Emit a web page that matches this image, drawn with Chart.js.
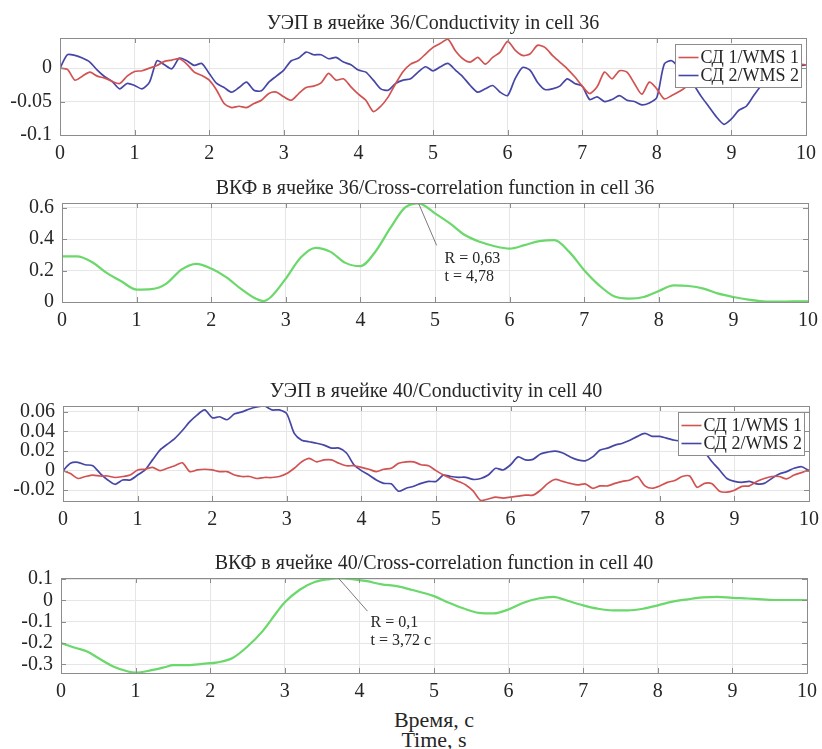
<!DOCTYPE html>
<html>
<head>
<meta charset="utf-8">
<script src="https://cdn.jsdelivr.net/npm/chart.js@4.4.1/dist/chart.umd.min.js"></script>
<style>
    body { margin: 0; background: #fff; }
    #wrap { position: relative; width: 822px; height: 749px; overflow: hidden; font-family: "Liberation Serif", "Times New Roman", serif; color: #262626; }
    #wrap canvas { position: absolute; left: 0; }
    .xlabel { position: absolute; left: 334px; width: 200px; text-align: center; font-size: 22px; line-height: 22px; }
</style>
</head>
<body>
<div id="wrap">
    <div class="xlabel" style="top: 709px;">Время, с</div>
    <div class="xlabel" style="top: 729px;">Time, s</div>
</div>
<script>
// sampling grid of the conductivity records, 0..10 s every 0.1 s
const t01 = Array.from({ length: 101 }, (_, i) => i / 10);
const xTicks = [0, 1, 2, 3, 4, 5, 6, 7, 8, 9, 10];

// cell 36, conductivity
const red36 = [
    0, -0.002, -0.018, -0.012, -0.006, -0.012, -0.015, -0.02, -0.023, -0.012,
    -0.005, -0.004, 0.0, 0.004, 0.01, 0.012, 0.014, 0.006, -0.006, -0.011,
    -0.018, -0.033, -0.053, -0.059, -0.057, -0.059, -0.053, -0.048, -0.038, -0.036,
    -0.043, -0.048, -0.038, -0.029, -0.027, -0.022, -0.008, -0.018, -0.016, -0.028,
    -0.039, -0.048, -0.065, -0.057, -0.043, -0.023, -0.005, 0.006, 0.011, 0.021,
    0.031, 0.037, 0.043, 0.026, 0.014, 0.009, 0.016, 0.006, 0.016, 0.024,
    0.04, 0.027, 0.019, 0.021, 0.034, 0.031, 0.019, 0.009, -0.001, -0.013,
    -0.027, -0.038, -0.028, -0.006, -0.016, -0.004, -0.006, -0.023, -0.039, -0.021,
    -0.031, -0.046, -0.041, -0.035, -0.028, -0.022, -0.018, -0.014, -0.02, -0.012,
    -0.006, -0.01, -0.002, -0.006, 0.0, -0.004, 0.004, 0.0, 0.004, 0.006,
    0.005
];
const blue36 = [
    0, 0.02, 0.019, 0.015, 0.009, -0.003, -0.013, -0.02, -0.031, -0.023,
    -0.026, -0.031, -0.021, 0.011, 0.005, -0.001, 0.015, 0.011, 0.004, 0.007,
    -0.008, -0.023, -0.029, -0.036, -0.029, -0.021, -0.033, -0.034, -0.021, -0.012,
    -0.003, 0.011, 0.015, 0.024, 0.02, 0.02, 0.014, 0.016, 0.009, 0.005,
    -0.003, -0.006, -0.018, -0.031, -0.033, -0.023, -0.018, -0.016, -0.006, 0.002,
    -0.004, 0.002, 0.007, -0.003, -0.013, -0.026, -0.036, -0.031, -0.026, -0.036,
    -0.041, -0.016, 0.001, -0.003, -0.021, -0.032, -0.031, -0.027, -0.016, -0.023,
    -0.027, -0.047, -0.043, -0.05, -0.047, -0.041, -0.048, -0.05, -0.055, -0.052,
    -0.044, 0.006, 0.011, 0.0, -0.012, -0.026, -0.043, -0.058, -0.073, -0.084,
    -0.076, -0.063, -0.057, -0.041, -0.026, -0.016, -0.008, -0.003, 0.0, 0.003,
    0.005
];
const yTicks36 = [-0.1, -0.05, 0];

// cell 36, cross-correlation
const ccTime36 = [0, 0.2, 0.4, 0.6, 0.8, 1.0, 1.2, 1.4, 1.6, 1.8, 2.0, 2.2, 2.4, 2.6, 2.7, 2.8,
    3.0, 3.2, 3.4, 3.6, 3.8, 4.0, 4.2, 4.4, 4.6, 4.78, 5.0, 5.2, 5.4, 5.6, 5.8,
    6.0, 6.2, 6.4, 6.6, 6.8, 7.0, 7.2, 7.4, 7.6, 7.8, 8.0, 8.2, 8.4, 8.6, 8.8,
    9.0, 9.2, 9.4, 9.6, 9.8, 10];
const cc36 = [0.29, 0.29, 0.255, 0.185, 0.13, 0.079, 0.082, 0.117, 0.206, 0.243, 0.213, 0.158, 0.083, 0.02, 0.006, 0.032,
    0.149, 0.283, 0.345, 0.319, 0.249, 0.228, 0.32, 0.47, 0.602, 0.628, 0.564, 0.5, 0.426, 0.383, 0.355,
    0.34, 0.362, 0.387, 0.394, 0.319, 0.202, 0.106, 0.036, 0.021, 0.032, 0.07, 0.106, 0.102, 0.085, 0.053,
    0.032, 0.015, 0.004, 0.002, 0.004, 0.004];
const yTicksCc36 = [0, 0.2, 0.4, 0.6];
const note36 = ['R = 0,63', 't = 4,78'];

// cell 40, conductivity
const red40 = [
    0, -0.003, -0.008, -0.006, -0.0045, -0.0055, -0.0055, -0.007, -0.006, -0.0045,
    0.0007, 0.0014, 0.0034, 0, 0.0024, 0.005, 0.008, -0.001, 0.0007, 0.0014,
    0.0007, -0.001, -0.001, -0.0045, -0.006, -0.006, -0.008, -0.007, -0.007, -0.006,
    -0.003, 0.0024, 0.009, 0.0125, 0.009, 0.011, 0.011, 0.0075, 0.005, 0.005,
    0.0034, 0.0014, -0.001, 0.0014, 0.0024, 0.0075, 0.009, 0.009, 0.006, 0.005,
    0, -0.0045, -0.008, -0.011, -0.0146, -0.021, -0.0305, -0.029, -0.027, -0.028,
    -0.027, -0.026, -0.025, -0.025, -0.02, -0.013, -0.009, -0.011, -0.013, -0.0146,
    -0.0135, -0.018, -0.0156, -0.0156, -0.013, -0.011, -0.0095, -0.006, -0.0156, -0.018,
    -0.0156, -0.012, -0.01, -0.006, -0.0055, -0.017, -0.013, -0.0135, -0.021, -0.022,
    -0.02, -0.016, -0.0156, -0.011, -0.008, -0.006, -0.006, -0.0085, -0.0045, -0.002,
    0.0007
];
const blue40 = [
    0, 0.0075, 0.0085, 0.006, 0.005, -0.003, -0.0095, -0.014, -0.0095, -0.0095,
    -0.0045, 0.0007, 0.011, 0.021, 0.027, 0.033, 0.041, 0.05, 0.057, 0.062,
    0.054, 0.055, 0.052, 0.058, 0.06, 0.063, 0.065, 0.066, 0.062, 0.062,
    0.058, 0.038, 0.031, 0.0295, 0.028, 0.026, 0.023, 0.023, 0.018, 0.006,
    0, -0.0045, -0.0095, -0.013, -0.0135, -0.021, -0.018, -0.016, -0.013, -0.011,
    -0.011, -0.0045, -0.006, -0.0068, -0.0068, -0.009, -0.008, -0.0045, 0.0024, 0.0007,
    0.006, 0.014, 0.011, 0.0115, 0.017, 0.019, 0.02, 0.018, 0.014, 0.011,
    0.01, 0.014, 0.021, 0.023, 0.026, 0.028, 0.031, 0.035, 0.038, 0.035,
    0.035, 0.033, 0.031, 0.03, 0.028, 0.024, 0.019, 0.009, 0.0007, -0.008,
    -0.011, -0.012, -0.011, -0.0135, -0.013, -0.008, -0.0034, -0.001, 0.0024, 0.004,
    0.0
];
const yTicks40 = [-0.02, 0, 0.02, 0.04, 0.06];

// cell 40, cross-correlation
const ccTime40 = [0, 0.2, 0.35, 0.5, 0.7, 0.9, 1.0, 1.2, 1.4, 1.5, 1.7, 1.9, 2.1, 2.3, 2.5,
    2.7, 2.9, 3.0, 3.2, 3.4, 3.6, 3.72, 3.9, 4.1, 4.3, 4.5, 4.7, 5.0, 5.2, 5.4,
    5.6, 5.8, 6.0, 6.2, 6.4, 6.6, 6.8, 7.0, 7.2, 7.4, 7.6, 7.8, 8.0, 8.2, 8.4,
    8.6, 8.8, 9.0, 9.2, 9.4, 9.6, 9.8, 10];
const cc40 = [-0.2, -0.223, -0.239, -0.27, -0.309, -0.333, -0.338, -0.328, -0.312, -0.303, -0.303, -0.297, -0.29, -0.27, -0.216,
    -0.145, -0.052, -0.009, 0.05, 0.086, 0.1, 0.104, 0.1, 0.09, 0.075, 0.067, 0.05, 0.02, -0.011, -0.038,
    -0.058, -0.061, -0.042, -0.011, 0.009, 0.017, -0.003, -0.023, -0.039, -0.047, -0.047, -0.039, -0.023, -0.006, 0.005,
    0.014, 0.017, 0.012, 0.009, 0.005, 0.002, 0.002, 0.002];
const yTicksCc40 = [-0.3, -0.2, -0.1, 0, 0.1];
const note40 = ['R = 0,1', 't = 3,72 с'];

const seriesNames = ['СД 1/WMS 1', 'СД 2/WMS 2'];

const RED = '#d25252', BLUE = '#4646a6', GREEN = '#6ad86a';
const GRID = '#e6e6e6', FRAME = '#8c8c8c', INK = '#262626';
const FONT = '"Liberation Serif", "Times New Roman", serif';
const PAD_TOP = 40, PAD_BOTTOM = 34, PAGE_W = 822;

function pts(ts, vs) {
    return vs.map((v, i) => ({ x: ts[i], y: v }));
}

function peakOf(ts, vs) {
    let k = 0;
    vs.forEach((v, i) => { if (v > vs[k]) k = i; });
    return { t: ts[k], v: vs[k] };
}

const panelPlugin = {
    id: 'panel',
    afterDatasetsDraw(chart, args, opts) {
        const { ctx, chartArea: a } = chart;
        const x = chart.scales.x, y = chart.scales.y;
        ctx.save();
        ctx.strokeStyle = FRAME;
        ctx.lineWidth = 1;
        ctx.strokeRect(Math.round(a.left) + 0.5, Math.round(a.top) + 0.5, Math.round(a.right - a.left), Math.round(a.bottom - a.top));
        ctx.beginPath();
        x.ticks.forEach(tk => {
            const px = Math.round(x.getPixelForValue(tk.value)) + 0.5;
            ctx.moveTo(px, a.bottom); ctx.lineTo(px, a.bottom - 5);
            ctx.moveTo(px, a.top); ctx.lineTo(px, a.top + 5);
        });
        y.ticks.forEach(tk => {
            const py = Math.round(y.getPixelForValue(tk.value)) + 0.5;
            ctx.moveTo(a.left, py); ctx.lineTo(a.left + 5, py);
            ctx.moveTo(a.right, py); ctx.lineTo(a.right - 5, py);
        });
        ctx.stroke();

        if (opts.legend) {
            const w = 126, h = 43;
            const lx = Math.round(a.right - 5 - w) + 0.5, ly = Math.round(a.top + 6) + 0.5;
            ctx.fillStyle = '#fff';
            ctx.fillRect(lx, ly, w, h);
            ctx.strokeStyle = '#8c8c8c';
            ctx.strokeRect(lx, ly, w, h);
            ctx.font = '18px ' + FONT;
            ctx.textAlign = 'left';
            ctx.textBaseline = 'middle';
            opts.legend.forEach((item, i) => {
                const ry = ly + 13 + i * 18;
                ctx.strokeStyle = item.color;
                ctx.lineWidth = 1.6;
                ctx.beginPath(); ctx.moveTo(lx + 3, ry); ctx.lineTo(lx + 23, ry); ctx.stroke();
                ctx.fillStyle = INK;
                ctx.fillText(item.label, lx + 25, ry + 1);
            });
        }

        if (opts.note) {
            const n = opts.note;
            const px = x.getPixelForValue(n.t), py = y.getPixelForValue(n.v);
            ctx.strokeStyle = '#7a7a7a';
            ctx.lineWidth = 1;
            ctx.beginPath(); ctx.moveTo(px, py); ctx.lineTo(px + n.dx, py + n.dy); ctx.stroke();
            ctx.font = '16px ' + FONT;
            ctx.fillStyle = INK;
            ctx.textAlign = 'left';
            ctx.textBaseline = 'middle';
            n.lines.forEach((s, i) => ctx.fillText(s, px + n.tx, py + n.ty + i * 18));
        }
        ctx.restore();
    },
    afterDraw(chart, args, opts) {
        const { ctx, chartArea: a } = chart;
        const x = chart.scales.x, y = chart.scales.y;
        ctx.save();
        ctx.fillStyle = INK;
        ctx.textBaseline = 'middle';
        ctx.font = '20px ' + FONT;
        ctx.textAlign = 'center';
        ctx.fillText(opts.title, (a.left + a.right) / 2, a.top - 14);
        x.ticks.forEach(tk => ctx.fillText(String(tk.value), x.getPixelForValue(tk.value), a.bottom + 19));
        ctx.textAlign = 'right';
        y.ticks.forEach(tk => ctx.fillText(String(tk.value), a.left - 8, y.getPixelForValue(tk.value)));
        ctx.restore();
    }
};
Chart.register(panelPlugin);

function makePanel(box, yMin, yMax, yTicks, datasets, extra) {
    const canvas = document.createElement('canvas');
    canvas.width = PAGE_W;
    canvas.height = PAD_TOP + (box.bottom - box.top) + PAD_BOTTOM;
    canvas.style.top = (box.top - PAD_TOP) + 'px';
    document.getElementById('wrap').appendChild(canvas);

    return new Chart(canvas.getContext('2d'), {
        type: 'line',
        data: { datasets: datasets },
        options: {
            responsive: false,
            animation: false,
            devicePixelRatio: 1,
            events: [],
            layout: { padding: { top: PAD_TOP, left: 0, right: PAGE_W - box.right, bottom: 0 } },
            elements: { point: { radius: 0 }, line: { borderCapStyle: 'round', borderJoinStyle: 'round' } },
            plugins: {
                legend: { display: false },
                tooltip: { enabled: false },
                panel: Object.assign({ title: '' }, extra)
            },
            scales: {
                x: {
                    type: 'linear', min: 0, max: 10,
                    afterBuildTicks: s => { s.ticks = xTicks.map(v => ({ value: v })); },
                    afterFit: s => { s.height = PAD_BOTTOM; },
                    grid: { color: GRID, drawTicks: false },
                    border: { display: false },
                    ticks: { display: false }
                },
                y: {
                    type: 'linear', min: yMin, max: yMax,
                    afterBuildTicks: s => { s.ticks = yTicks.map(v => ({ value: v })); },
                    afterFit: s => { s.width = box.left; },
                    grid: { color: GRID, drawTicks: false },
                    border: { display: false },
                    ticks: { display: false }
                }
            }
        }
    });
}

function noisy(values, color) {
    return { data: pts(t01, values), borderColor: color, borderWidth: 1.7, tension: 0.25 };
}
function smooth(ts, values) {
    return { data: pts(ts, values), borderColor: GREEN, borderWidth: 2.2, cubicInterpolationMode: 'monotone' };
}

const legendItems = [{ label: seriesNames[0], color: RED }, { label: seriesNames[1], color: BLUE }];
const peak36 = peakOf(ccTime36, cc36);
const peak40 = peakOf(ccTime40, cc40);

makePanel({ left: 60, right: 806, top: 38, bottom: 135 }, -0.1, 0.045, yTicks36,
    [noisy(red36, RED), noisy(blue36, BLUE)],
    { title: 'УЭП в ячейке 36/Conductivity in cell 36', legend: legendItems });

makePanel({ left: 62, right: 808, top: 203, bottom: 302 }, 0, 0.63, yTicksCc36,
    [smooth(ccTime36, cc36)],
    { title: 'ВКФ в ячейке 36/Cross-correlation function in cell 36',
      note: { t: peak36.t, v: peak36.v, dx: 18, dy: 42, tx: 26, ty: 55, lines: note36 } });

makePanel({ left: 63, right: 809, top: 406, bottom: 501 }, -0.031, 0.066, yTicks40,
    [noisy(red40, RED), noisy(blue40, BLUE)],
    { title: 'УЭП в ячейке 40/Conductivity in cell 40', legend: legendItems });

makePanel({ left: 61, right: 807, top: 578, bottom: 673 }, -0.34, 0.105, yTicksCc40,
    [smooth(ccTime40, cc40)],
    { title: 'ВКФ в ячейке 40/Cross-correlation function in cell 40',
      note: { t: peak40.t, v: peak40.v, dx: 29, dy: 33, tx: 32, ty: 45, lines: note40 } });
</script>
</body>
</html>
